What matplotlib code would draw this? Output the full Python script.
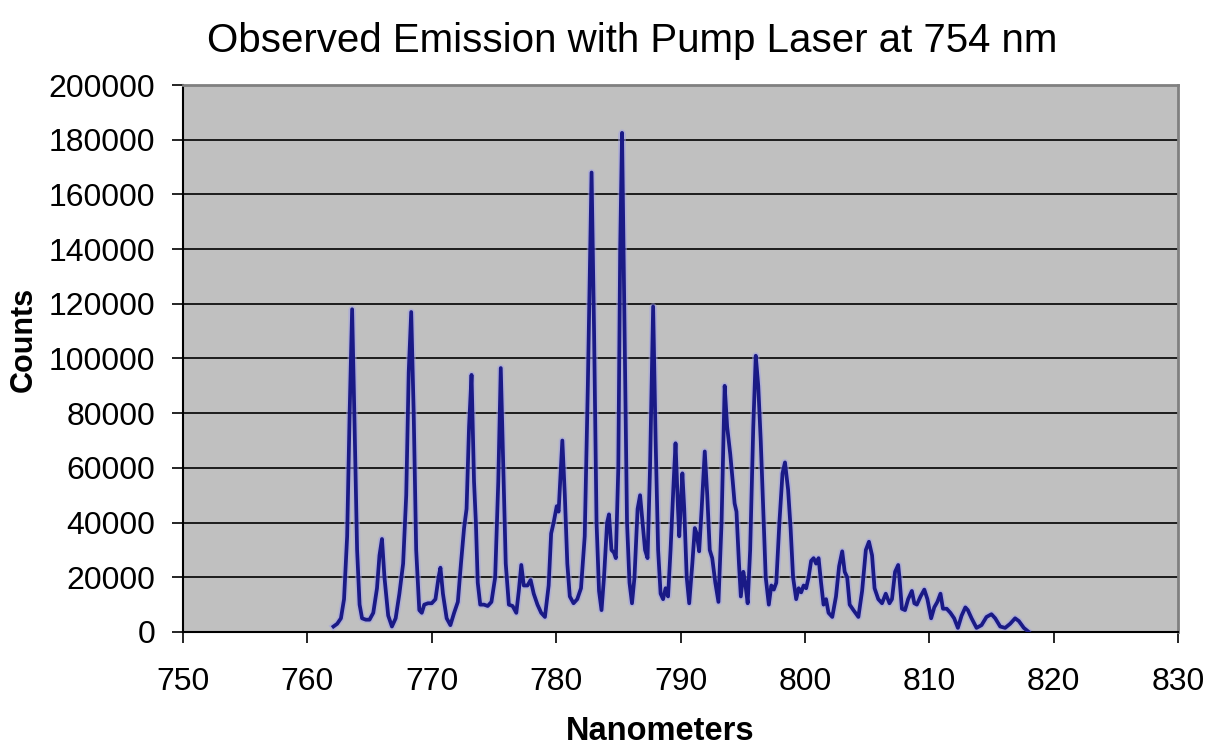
import matplotlib
matplotlib.use("Agg")
import matplotlib.pyplot as plt
from matplotlib.ticker import MultipleLocator

plt.rcParams['font.family'] = ['Liberation Sans', 'DejaVu Sans']

# wavelength (nm) and counts (thousands)
wavelength = [
    762.1, 762.4, 762.7, 762.95, 763.2, 763.4, 763.6, 763.8, 764.0, 764.2,
    764.4, 764.7, 765.0, 765.3, 765.6, 765.8, 766.0, 766.2, 766.5, 766.8,
    767.1, 767.4, 767.7, 767.95, 768.15, 768.35, 768.55, 768.75, 769.0, 769.2,
    769.4, 769.7, 770.0, 770.3, 770.55, 770.7, 770.9, 771.2, 771.5, 771.8,
    772.1, 772.35, 772.6, 772.8, 773.0, 773.2, 773.4, 773.55, 773.7, 773.9,
    774.2, 774.5, 774.8, 775.1, 775.35, 775.55, 775.75, 775.95, 776.2, 776.5,
    776.8, 777.0, 777.2, 777.4, 777.7, 777.95, 778.2, 778.5, 778.8, 779.1,
    779.4, 779.6, 779.8, 780.05, 780.2, 780.5, 780.7, 780.9, 781.1, 781.4,
    781.7, 782.0, 782.3, 782.55, 782.85, 783.05, 783.25, 783.45, 783.65, 783.85,
    784.1, 784.25, 784.45, 784.65, 784.8, 785.0, 785.15, 785.3, 785.5, 785.7,
    785.9, 786.1, 786.3, 786.55, 786.75, 786.95, 787.15, 787.35, 787.55, 787.8,
    788.0, 788.2, 788.4, 788.6, 788.8, 789.0, 789.2, 789.45, 789.6, 789.8,
    789.9, 790.15, 790.3, 790.5, 790.7, 790.95, 791.15, 791.3, 791.5, 791.7,
    791.95, 792.15, 792.35, 792.55, 792.8, 793.05, 793.3, 793.55, 793.75, 794.0,
    794.2, 794.35, 794.5, 794.7, 794.85, 795.05, 795.2, 795.4, 795.6, 795.85,
    796.05, 796.25, 796.45, 796.65, 796.85, 797.1, 797.3, 797.5, 797.7, 797.95,
    798.2, 798.4, 798.65, 798.85, 799.05, 799.3, 799.5, 799.7, 799.9, 800.1,
    800.3, 800.5, 800.7, 800.9, 801.1, 801.3, 801.5, 801.7, 801.9, 802.2,
    802.5, 802.75, 803.0, 803.2, 803.4, 803.6, 803.9, 804.3, 804.6, 804.9,
    805.15, 805.4, 805.6, 805.9, 806.2, 806.5, 806.8, 807.0, 807.25, 807.5,
    807.6, 807.8, 808.05, 808.3, 808.6, 808.8, 809.0, 809.3, 809.6, 809.85,
    810.15, 810.4, 810.65, 810.9, 811.1, 811.4, 811.7, 812.0, 812.3, 812.6,
    812.9, 813.1, 813.4, 813.8, 814.2, 814.6, 815.0, 815.3, 815.7, 816.1,
    816.5, 816.9, 817.2, 817.6, 818.0,
]
counts_k = [
    2, 3, 5, 12, 35, 80, 118, 75, 30, 10,
    5, 4.5, 4.5, 7, 16, 28, 34, 20, 6, 2,
    5, 14, 25, 50, 95, 117, 80, 30, 8, 7,
    10, 10.5, 10.5, 12, 20, 23.5, 14, 5, 2.5, 7,
    11, 25, 38, 45, 75, 94, 55, 40, 18, 10,
    10, 9.5, 11, 20, 55, 96.5, 60, 25, 10, 9.5,
    7, 15, 24.5, 17, 17, 19, 14, 10, 7, 5.5,
    17, 36, 40, 46, 44, 70, 50, 25, 13, 10.5,
    12, 16, 35, 90, 168, 110, 40, 15, 8, 20,
    40, 43, 30, 29, 27, 60, 140, 182.5, 110, 40,
    18, 10.5, 20, 45, 50, 40, 30, 27, 60, 119,
    70, 30, 14, 12, 16, 13, 30, 55, 69, 45,
    35, 58, 45, 20, 10.5, 25, 38, 36, 29.5, 45,
    66, 50, 30, 27, 18, 11, 40, 90, 75, 65,
    55, 47, 44, 25, 13, 22, 18, 10.5, 30, 75,
    101, 90, 70, 45, 20, 10, 17, 15.5, 18, 40,
    58, 62, 52, 38, 20, 12, 16, 14.5, 17, 16,
    20, 26, 27, 25, 27, 18, 10, 12, 7, 5.5,
    13, 24, 29.5, 22, 20, 10, 8, 5.5, 15, 30,
    33, 28, 16, 12, 10.5, 14, 10.5, 12, 22, 24.5,
    20, 8.5, 8, 12, 15, 10.5, 10, 13, 15.5, 12,
    5, 9, 11, 14, 8.5, 8.5, 7, 5, 1.5, 6,
    9, 8, 5, 1.5, 2.5, 5.5, 6.5, 5, 2, 1.5,
    3, 5, 4, 1.5, 0,
]
counts = [c * 1000 for c in counts_k]

fig = plt.figure(figsize=(12.1, 7.45), dpi=100)
ax = fig.add_axes([0.1512, 0.1517, 0.8224, 0.7342])
ax.set_facecolor('#c0c0c0')

ax.plot(wavelength, counts, color='#a0a0e8', lw=5, alpha=0.5, solid_joinstyle='round', zorder=2)
ax.plot(wavelength, counts, color='#1a1a86', lw=2.7, solid_joinstyle='round', zorder=3)

ax.set_xlim(750, 830)
ax.set_ylim(0, 200000)
ax.xaxis.set_major_locator(MultipleLocator(10))
ax.yaxis.set_major_locator(MultipleLocator(20000))
ax.yaxis.grid(True, color='black', lw=1.2)
ax.set_axisbelow(True)

for s in ['top', 'right']:
    ax.spines[s].set_color('#808080')
    ax.spines[s].set_linewidth(2)
for s in ['left', 'bottom']:
    ax.spines[s].set_color('black')
    ax.spines[s].set_linewidth(1.5)

ax.tick_params(axis='both', direction='out', length=8, width=1.2, labelsize=23, colors='black')
ax.tick_params(axis='x', pad=17)
ax.tick_params(axis='y', pad=12)

ax.set_title('Observed Emission with Pump Laser at 754 nm', fontsize=29, x=0.451, pad=24)
ax.set_xlabel('Nanometers', fontsize=23.5, fontweight='bold')
ax.xaxis.set_label_coords(0.48, -0.153)
ax.set_ylabel('Counts', fontsize=22, fontweight='bold')
ax.yaxis.set_label_coords(-0.145, 0.535)

fig.savefig('out.png', dpi=100, facecolor='white')
